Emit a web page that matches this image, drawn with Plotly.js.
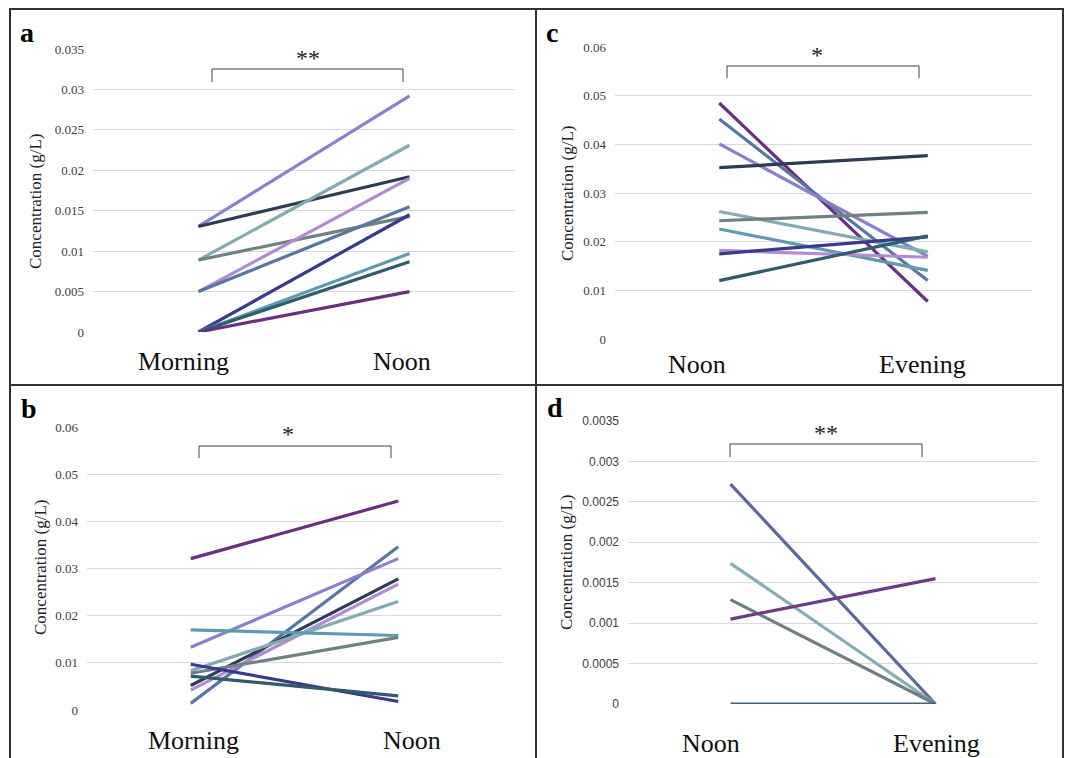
<!DOCTYPE html>
<html>
<head>
<meta charset="utf-8">
<script src="https://cdn.plot.ly/plotly-3.0.1.min.js"></script>
<style>html,body{margin:0;padding:0;background:#fff;}#chart{width:1068px;height:758px;}</style>
</head>
<body>
<div id="chart"></div>
<script>
// ---------- DATA ----------
var catsAB = ['Morning', 'Noon'];
var catsCD = ['Noon', 'Evening'];

var aMorning = [0.01305, 0.01305, 0.0089, 0.0089, 0.0050, 0.0050, 0, 0, 0, 0];
var aNoon    = [0.0292, 0.0192, 0.0231, 0.0143, 0.0190, 0.0155, 0.0145, 0.0097, 0.0087, 0.0050];

var bMorning = [0.0321, 0.0014, 0.0133, 0.0052, 0.0042, 0.0083, 0.0170, 0.0078, 0.0097, 0.0072];
var bNoon    = [0.0443, 0.0346, 0.0321, 0.0278, 0.0267, 0.0230, 0.0158, 0.0154, 0.0018, 0.0030];

var cNoon    = [0.0485, 0.0452, 0.0401, 0.0352, 0.0262, 0.0243, 0.0226, 0.0182, 0.0175, 0.0120];
var cEvening = [0.0077, 0.0120, 0.0170, 0.0377, 0.0179, 0.0260, 0.0141, 0.0168, 0.0210, 0.0212];

var dNoon    = [0.00272, 0.00174, 0.00129, 0.00105, 0];
var dEvening = [0, 0, 0, 0.00155, 0];

var ticksA = [0, 0.005, 0.01, 0.015, 0.02, 0.025, 0.03, 0.035];
var tickTextA = ['0', '0.005', '0.01', '0.015', '0.02', '0.025', '0.03', '0.035'];
var ticksBC = [0, 0.01, 0.02, 0.03, 0.04, 0.05, 0.06];
var tickTextBC = ['0', '0.01', '0.02', '0.03', '0.04', '0.05', '0.06'];
var ticksD = [0, 0.0005, 0.001, 0.0015, 0.002, 0.0025, 0.003, 0.0035];
var tickTextD = ['0', '0.0005', '0.001', '0.0015', '0.002', '0.0025', '0.003', '0.0035'];

var yTitle = 'Concentration (g/L)';
var panelLetters = ['a', 'b', 'c', 'd'];
var sigA = '**', sigB = '*', sigC = '*', sigD = '**';

// ---------- STYLE ----------
var colorsA = ['#8B80CE', '#2E3B55', '#80ACB2', '#6F8282', '#B38AD4', '#5876A2', '#383A8E', '#5E9BB1', '#2F5C6C', '#6B2F80'];
var colorsB = ['#6B2F80', '#5876A2', '#8B80CE', '#2E3B55', '#B38AD4', '#80ACB2', '#5E9BB1', '#6F8282', '#383A8E', '#2F5C6C'];
var colorsC = ['#6B2F80', '#5876A2', '#8B80CE', '#2E3B55', '#80ACB2', '#6F8282', '#5E9BB1', '#B38AD4', '#383A8E', '#2F5C6C'];
var colorsD = ['#5A6A9C', '#84AEB5', '#6E7F80', '#6E3A8A', '#3D6478'];

var W = 1068, H = 758;
function px(x) { return x / W; }
function py(y) { return 1 - y / H; }

var traces = [];
function addPanel(xa, ya, cats, v1, v2, colors) {
  for (var i = 0; i < v1.length; i++) {
    traces.push({
      type: 'scatter', mode: 'lines',
      x: [0, 1], y: [v1[i], v2[i]],
      text: cats,
      xaxis: xa, yaxis: ya,
      line: { color: colors[i], width: 3.2 },
      showlegend: false, hoverinfo: 'skip'
    });
  }
}
addPanel('x', 'y', catsAB, aMorning, aNoon, colorsA);
addPanel('x2', 'y2', catsAB, bMorning, bNoon, colorsB);
addPanel('x3', 'y3', catsCD, cNoon, cEvening, colorsC);
addPanel('x4', 'y4', catsCD, dNoon, dEvening, colorsD);

var serif = 'Liberation Serif, Times New Roman, serif';
var sans = 'Liberation Sans, Arial, sans-serif';

function xAxis(l, r, anchor) {
  return { domain: [px(l), px(r)], range: [-0.5, 1.5], anchor: anchor,
    showgrid: false, zeroline: false, showticklabels: false, showline: false, ticks: '', fixedrange: true };
}
function yAxis(top, bottom, max, tv, tt, anchor, font, fs) {
  return { domain: [py(bottom), py(top)], range: [0, max], anchor: anchor,
    tickvals: tv, ticktext: tt, showgrid: true, gridcolor: '#D9D9D9', gridwidth: 1,
    zeroline: false, showline: false, ticks: '', ticklabelstandoff: 8,
    tickfont: { family: font, size: fs, color: '#404040' }, fixedrange: true };
}

var layout = {
  width: W, height: H,
  margin: { l: 0, r: 0, t: 0, b: 0 },
  paper_bgcolor: '#fff', plot_bgcolor: 'rgba(0,0,0,0)',
  showlegend: false,
  xaxis: xAxis(93, 515, 'y'),
  yaxis: yAxis(49, 332, 0.035, ticksA, tickTextA, 'x', serif, 13),
  xaxis2: xAxis(87, 502, 'y2'),
  yaxis2: yAxis(427, 710, 0.06, ticksBC, tickTextBC, 'x2', serif, 13),
  xaxis3: xAxis(615, 1032, 'y3'),
  yaxis3: yAxis(47, 339, 0.06, ticksBC, tickTextBC, 'x3', serif, 13),
  xaxis4: xAxis(628, 1038, 'y4'),
  yaxis4: yAxis(421, 704, 0.0035, ticksD, tickTextD, 'x4', sans, 12),
  shapes: [],
  annotations: []
};

// figure borders
var bc = '#333333';
layout.shapes.push({ type: 'rect', xref: 'paper', yref: 'paper', x0: px(10), x1: px(1063), y0: py(770), y1: py(9), line: { color: bc, width: 2 } });
layout.shapes.push({ type: 'line', xref: 'paper', yref: 'paper', x0: px(10), x1: px(1063), y0: py(385), y1: py(385), line: { color: bc, width: 2 } });
layout.shapes.push({ type: 'line', xref: 'paper', yref: 'paper', x0: px(536), x1: px(536), y0: py(9), y1: py(770), line: { color: bc, width: 2 } });

// significance brackets
function bracket(l, r, top, bottom, star, sx, sy) {
  layout.shapes.push({ type: 'path', xref: 'paper', yref: 'paper',
    path: 'M ' + px(l) + ' ' + py(bottom) + ' L ' + px(l) + ' ' + py(top) + ' L ' + px(r) + ' ' + py(top) + ' L ' + px(r) + ' ' + py(bottom),
    line: { color: '#404040', width: 1 } });
  layout.annotations.push({ xref: 'paper', yref: 'paper', x: px(sx), y: py(sy), text: star, showarrow: false,
    xanchor: 'center', yanchor: 'middle', font: { family: serif, size: 24, color: '#222' } });
}
bracket(212, 403, 69, 82, sigA, 308, 58);
bracket(199, 391, 446, 458, sigB, 288, 434);
bracket(727, 919, 66, 78, sigC, 817, 55);
bracket(730, 922, 444, 457, sigD, 826, 433);

// panel letters
function letter(t, x, y) {
  layout.annotations.push({ xref: 'paper', yref: 'paper', x: px(x), y: py(y), text: '<b>' + t + '</b>', showarrow: false,
    xanchor: 'center', yanchor: 'middle', font: { family: serif, size: 28, color: '#000' } });
}
letter(panelLetters[0], 27, 32);
letter(panelLetters[1], 29, 408);
letter(panelLetters[2], 552, 32);
letter(panelLetters[3], 555, 407);

// y titles
function ytitle(x, y) {
  layout.annotations.push({ xref: 'paper', yref: 'paper', x: px(x), y: py(y), text: yTitle, textangle: -90, showarrow: false,
    xanchor: 'center', yanchor: 'middle', font: { family: serif, size: 17, color: '#222' } });
}
ytitle(35, 201);
ytitle(40, 567);
ytitle(567, 193);
ytitle(566, 562);

// category labels
function cat(t, x, y) {
  layout.annotations.push({ xref: 'paper', yref: 'paper', x: px(x), y: py(y), text: t, showarrow: false,
    xanchor: 'center', yanchor: 'middle', font: { family: serif, size: 26, color: '#111' } });
}
cat(catsAB[0], 183, 362);
cat(catsAB[1], 402, 362);
cat(catsAB[0], 193, 740);
cat(catsAB[1], 412, 740);
cat(catsCD[0], 697, 364);
cat(catsCD[1], 922, 364);
cat(catsCD[0], 711, 743);
cat(catsCD[1], 936, 743);

Plotly.newPlot('chart', traces, layout, { displayModeBar: false, staticPlot: true });
</script>
</body>
</html>
